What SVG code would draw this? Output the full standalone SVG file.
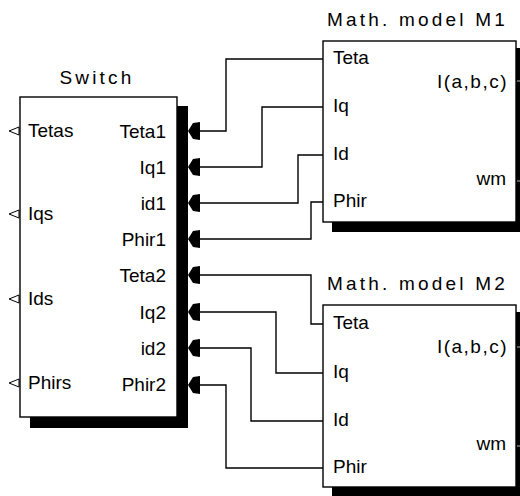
<svg xmlns="http://www.w3.org/2000/svg" width="520" height="496" viewBox="0 0 520 496">
<style>
text{font-family:"Liberation Sans",Arial,sans-serif;font-size:19px;fill:#000}
.title{letter-spacing:3.2px}
.r{text-anchor:end}
.box{fill:#fff;stroke:#000;stroke-width:1.4}
.sh{fill:#000}
.wire{fill:none;stroke:#000;stroke-width:1.4}
.inp{fill:#fff;stroke:#000;stroke-width:1}
.tick{stroke:#bbb;stroke-width:1}
</style>
<defs>
<path id="ah" d="M188,0 L193,-8 L200,-9 L200,9 L193,8 Z" fill="#000"/>
</defs>
<rect width="520" height="496" fill="#fff"/>
<g id="connectors">
<polyline class="wire" points="200,131 226,131 226,59 323,59"/>
<polyline class="wire" points="200,167 262,167 262,107 323,107"/>
<polyline class="wire" points="200,203 298,203 298,155 323,155"/>
<polyline class="wire" points="200,239 311,239 311,202 323,202"/>
<polyline class="wire" points="200,275 311,275 311,324 323,324"/>
<polyline class="wire" points="200,312 276,312 276,373 323,373"/>
<polyline class="wire" points="200,348 251,348 251,421 323,421"/>
<polyline class="wire" points="200,385 226,385 226,468 323,468"/>
</g>
<g id="switch">
<rect class="sh" x="30" y="106" width="158" height="322"/>
<rect class="box" x="20" y="97" width="157" height="320"/>
<text class="title" x="97" y="84" text-anchor="middle">Switch</text>
<polygon class="inp" points="19,127 9,131 19,135"/>
<polygon class="inp" points="19,210 9,214 19,218"/>
<polygon class="inp" points="19,295 9,299 19,303"/>
<polygon class="inp" points="19,379 9,383 19,387"/>
<text x="28" y="137">Tetas</text>
<text x="28" y="220">Iqs</text>
<text x="28" y="305">Ids</text>
<text x="28" y="389">Phirs</text>
<text class="r" x="166" y="138">Teta1</text>
<text class="r" x="166" y="174">Iq1</text>
<text class="r" x="166" y="210">id1</text>
<text class="r" x="166" y="246">Phir1</text>
<text class="r" x="166" y="282">Teta2</text>
<text class="r" x="166" y="319">Iq2</text>
<text class="r" x="166" y="355">id2</text>
<text class="r" x="166" y="391">Phir2</text>
<use href="#ah" y="131"/>
<use href="#ah" y="167"/>
<use href="#ah" y="203"/>
<use href="#ah" y="239"/>
<use href="#ah" y="275"/>
<use href="#ah" y="312"/>
<use href="#ah" y="348"/>
<use href="#ah" y="385"/>
</g>
<g id="m1">
<rect class="sh" x="332" y="48" width="200" height="184"/>
<rect class="box" x="323" y="41" width="193" height="181"/>
<text class="title" x="327" y="26">Math. model M1</text>
<text x="333" y="64">Teta</text>
<text x="333" y="112">Iq</text>
<text x="333" y="160">Id</text>
<text x="333" y="207">Phir</text>
<text class="r" x="508" y="88" letter-spacing="1.5">I(a,b,c)</text>
<text class="r" x="506" y="185">wm</text>
<line class="tick" x1="517" y1="81" x2="520" y2="81"/>
<line class="tick" x1="517" y1="181" x2="520" y2="181"/>
</g>
<g id="m2">
<rect class="sh" x="332" y="312" width="200" height="190"/>
<rect class="box" x="323" y="305" width="193" height="182"/>
<text class="title" x="327" y="290">Math. model M2</text>
<text x="333" y="329">Teta</text>
<text x="333" y="378">Iq</text>
<text x="333" y="426">Id</text>
<text x="333" y="473">Phir</text>
<text class="r" x="508" y="353" letter-spacing="1.5">I(a,b,c)</text>
<text class="r" x="506" y="450">wm</text>
<line class="tick" x1="517" y1="347" x2="520" y2="347"/>
<line class="tick" x1="517" y1="446" x2="520" y2="446"/>
</g>
</svg>
